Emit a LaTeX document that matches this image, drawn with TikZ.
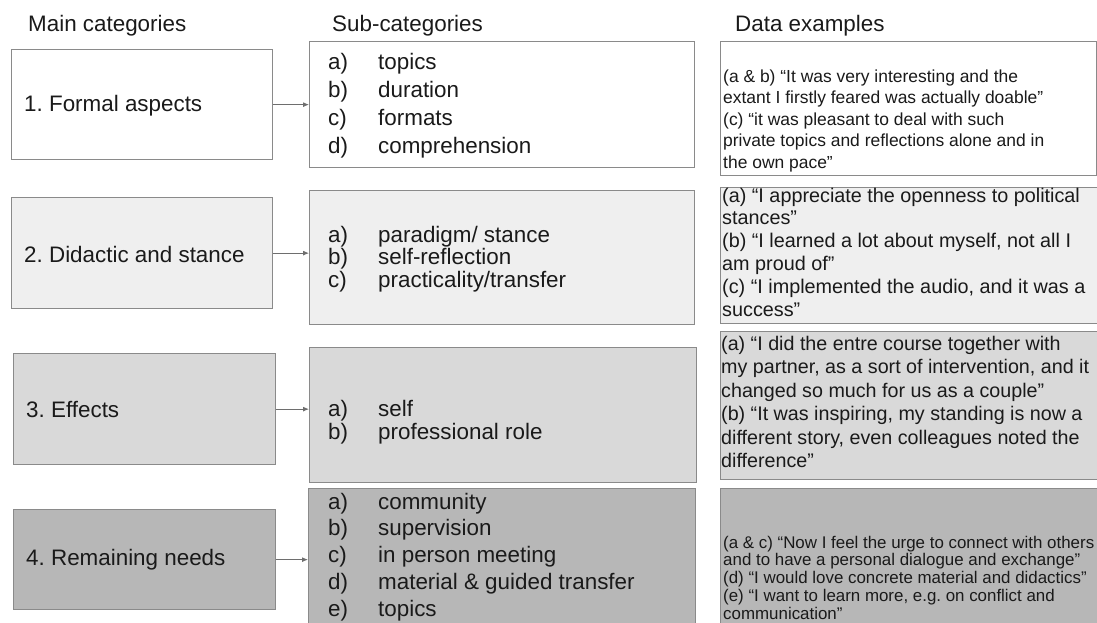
\documentclass[tikz,border=0pt]{standalone}
\usepackage{fontspec}
\setmainfont{Liberation Sans}
\usetikzlibrary{arrows.meta}
\definecolor{bordergray}{HTML}{8A8A8A}
\definecolor{fillA}{HTML}{FFFFFF}
\definecolor{fillB}{HTML}{EFEFEF}
\definecolor{fillC}{HTML}{D9D9D9}
\definecolor{fillD}{HTML}{B7B7B7}
\definecolor{txt}{HTML}{1A1A1A}
\definecolor{arrowgray}{HTML}{6E6E6E}
\newcommand{\itm}[2]{\makebox[50pt][l]{#1}#2}
\frenchspacing
\begin{document}
\begin{tikzpicture}[x=1pt,y=-1pt,
  box/.style={draw=bordergray, line width=1.3pt, inner sep=0pt, anchor=north west},
  maintext/.style={font=\fontsize{22.4}{27}\selectfont, text=txt, anchor=west, inner sep=0pt},
  headtext/.style={font=\fontsize{22.4}{27}\selectfont, text=txt, anchor=base west, inner sep=0pt},
  itemtext/.style={text=txt, anchor=base west, inner sep=0pt},
  datatext/.style={text=txt, anchor=base west, inner sep=0pt},
  conn/.style={draw=arrowgray, line width=0.9pt, -{Latex[length=6pt,width=5pt]}}
]
\useasboundingbox (0,0) rectangle (1097,622);
\clip (0,0) rectangle (1097,622);

% headers
\node[headtext] (h1) at (28,31) {Main categories};
\node[headtext] (h2) at (332,31) {Sub-categories};
\node[headtext] (h3) at (735,31) {Data examples};

% row 1
\node[box, fill=fillA, minimum width=261pt, minimum height=110pt] (m1) at (11,49) {};
\node[box, fill=fillA, minimum width=385pt, minimum height=126pt] (s1) at (309,41) {};
\node[box, fill=fillA, minimum width=376pt, minimum height=134pt] (d1) at (720,41) {};
% row 2
\node[box, fill=fillB, minimum width=261pt, minimum height=111pt] (m2) at (11,197) {};
\node[box, fill=fillB, minimum width=385pt, minimum height=134pt] (s2) at (309,190) {};
\node[box, fill=fillB, minimum width=390pt, minimum height=136pt] (d2) at (720,187) {};
% row 3
\node[box, fill=fillC, minimum width=262pt, minimum height=111pt] (m3) at (13,353) {};
\node[box, fill=fillC, minimum width=387pt, minimum height=135pt] (s3) at (309,347) {};
\node[box, fill=fillC, minimum width=390pt, minimum height=148pt] (d3) at (720,331) {};
% row 4
\node[box, fill=fillD, minimum width=262pt, minimum height=100pt] (m4) at (13,509) {};
\node[box, fill=fillD, minimum width=387pt, minimum height=160pt] (s4) at (308,488) {};
\node[box, fill=fillD, minimum width=390pt, minimum height=160pt] (d4) at (720,488) {};

% main texts
\node[maintext] (t1) at ([xshift=13pt,yshift=-1.5pt]m1.west) {1. Formal aspects};
\node[maintext] (t2) at ([xshift=13pt,yshift=-1pt]m2.west) {2. Didactic and stance};
\node[maintext] (t3) at ([xshift=13pt]m3.west) {3. Effects};
\node[maintext] (t4) at ([xshift=13pt]m4.west) {4. Remaining needs};

% connectors
\draw[conn] (m1.east) -- (m1.east -| s1.west);
\draw[conn] (m2.east) -- (m2.east -| s2.west);
\draw[conn] (m3.east) -- (m3.east -| s3.west);
\draw[conn] (m4.east) -- (m4.east -| s4.west);

% sub-category items
\node[itemtext, font=\fontsize{22.4}{28}\selectfont] (i1) at (328,69) {\begin{tabular}[t]{@{}l@{}}
\itm{a)}{topics}\\ \itm{b)}{duration}\\ \itm{c)}{formats}\\ \itm{d)}{comprehension}\end{tabular}};
\node[itemtext, font=\fontsize{22.4}{22}\selectfont] (i2) at (328,242) {\begin{tabular}[t]{@{}l@{}}
\itm{a)}{paradigm/ stance}\\ \itm{b)}{self-reflection}\\ \itm{c)}{practicality/transfer}\end{tabular}};
\node[itemtext, font=\fontsize{22.4}{22.5}\selectfont] (i3) at (328,416.5) {\begin{tabular}[t]{@{}l@{}}
\itm{a)}{self}\\ \itm{b)}{professional role}\end{tabular}};
\node[itemtext, font=\fontsize{22.4}{26.8}\selectfont] (i4) at (328,509) {\begin{tabular}[t]{@{}l@{}}
\itm{a)}{community}\\ \itm{b)}{supervision}\\ \itm{c)}{in person meeting}\\ \itm{d)}{material \& guided transfer}\\ \itm{e)}{topics}\end{tabular}};

% data examples
\node[datatext, font=\fontsize{17.45}{21.5}\selectfont] (x1) at (723,82) {\begin{tabular}[t]{@{}l@{}}
(a \& b) “It was very interesting and the\\
extant I firstly feared was actually doable”\\
(c) “it was pleasant to deal with such\\
private topics and reflections alone and in\\
the own pace”\end{tabular}};
\node[datatext, font=\fontsize{19.8}{22.8}\selectfont] (x2) at (722,202) {\begin{tabular}[t]{@{}l@{}}
(a) “I appreciate the openness to political\\
stances”\\
(b) “I learned a lot about myself, not all I\\
am proud of”\\
(c) “I implemented the audio, and it was a\\
success”\end{tabular}};
\node[datatext, font=\fontsize{19.7}{23.5}\selectfont] (x3) at (721,350) {\begin{tabular}[t]{@{}l@{}}
(a) “I did the entre course together with\\
my partner, as a sort of intervention, and it\\
changed so much for us as a couple”\\
(b) “It was inspiring, my standing is now a\\
different story, even colleagues noted the\\
difference”\end{tabular}};
\node[datatext, font=\fontsize{16.9}{17.8}\selectfont] (x4) at (723,548) {\begin{tabular}[t]{@{}l@{}}
(a \& c) “Now I feel the urge to connect with others\\
and to have a personal dialogue and exchange”\\
(d) “I would love concrete material and didactics”\\
(e) “I want to learn more, e.g. on conflict and\\
communication”\end{tabular}};
\end{tikzpicture}
\end{document}
